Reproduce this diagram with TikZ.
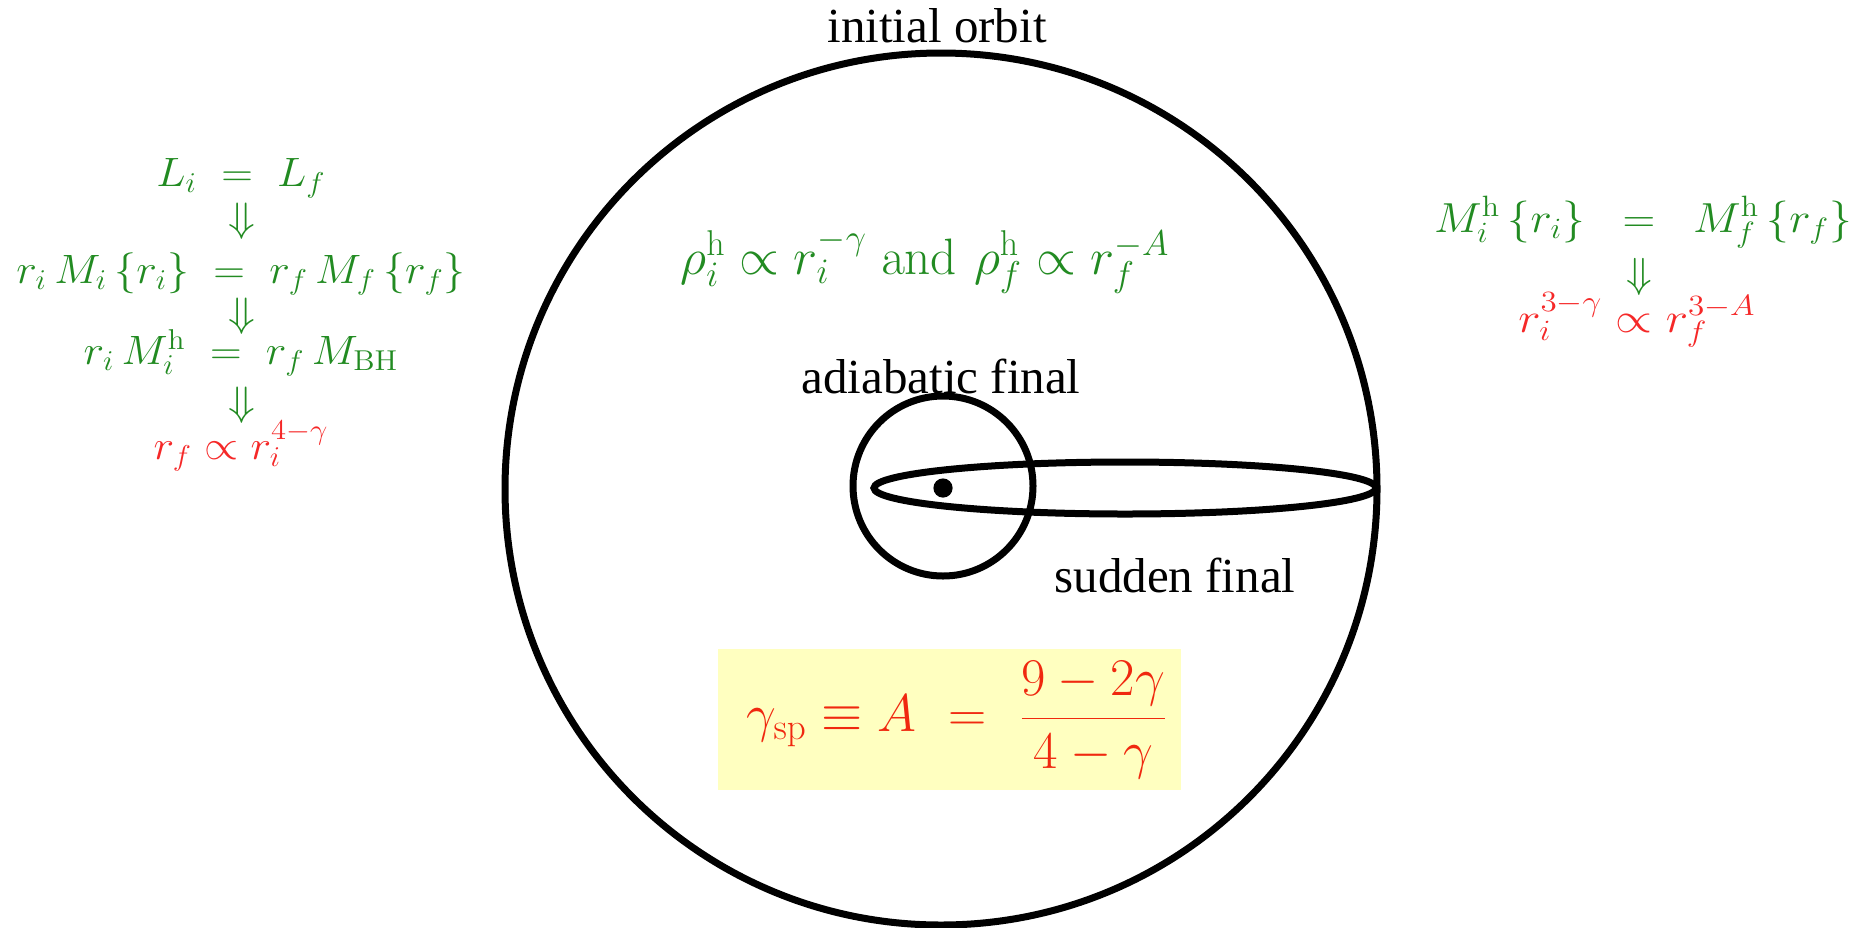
\RequirePackage{fix-cm}
\documentclass[tikz,border=0pt]{standalone}
\usepackage[no-math]{fontspec}
\setmainfont{Liberation Serif}
\definecolor{eqgreen}{RGB}{34,139,34}
\definecolor{eqred}{RGB}{245,40,40}
\definecolor{boxred}{RGB}{240,40,15}
\definecolor{boxyellow}{RGB}{255,255,192}
\newcommand\lstr[1]{\scalebox{1.07}[1]{$#1$}}
\newcommand\rstr[1]{\scalebox{1.08}[1]{$#1$}}
\newcommand\rstrb[1]{\scalebox{1.13}[1]{$#1$}}
\begin{document}
\begin{tikzpicture}[x=0.5pt,y=-0.5pt,
  orbit/.style={line width=3.5pt},
  lbl/.style={font=\rmfamily\fontsize{24.5}{29}\selectfont, inner sep=0pt, text=black},
  leq/.style={font=\fontsize{20.5}{24}\selectfont, inner sep=0pt, text=eqgreen},
  leqred/.style={leq, text=eqred},
  req/.style={font=\fontsize{21}{25}\selectfont, inner sep=0pt, text=eqgreen},
  reqred/.style={req, text=eqred},
  rhoeq/.style={font=\fontsize{25.6}{30}\selectfont, inner sep=0pt, text=eqgreen},
  boxeq/.style={font=\fontsize{26.5}{31}\selectfont, inner sep=0pt, text=boxred}]
\useasboundingbox (0,0) rectangle (1856,927);
% orbits
\draw[orbit] (941,489) circle[radius=218pt];
\draw[orbit] (943,486) circle[radius=45pt];
\draw[orbit] (1125,488) ellipse[x radius=125.5pt, y radius=13pt];
\fill (943,488) circle[radius=4.8pt];
% labels
\node[lbl] (init) at (937,26) {initial orbit};
\node[lbl] (adiab) at (941,376) {adiabatic final};
\node[lbl] (sudden) at (1175,575) {sudden final};
% left block
\node[leq, anchor=base] (l1) at (241,186) {\lstr{L_i\;=\;L_f}};
\node[leq] (a1) at (242,221) {\lstr{\Downarrow}};
\node[leq, anchor=base] (l2) at (241,283) {\lstr{r_i\,M_i\,\{r_i\}\;=\;r_f\,M_f\,\{r_f\}}};
\node[leq] (a2) at (242,316) {\lstr{\Downarrow}};
\node[leq, anchor=base] (l3) at (241,364) {\lstr{r_i\,M_i^{\mathrm{h}}\;=\;r_f\,M_{\mathrm{BH}}}};
\node[leq] (a3) at (242,405) {\lstr{\Downarrow}};
\node[leqred, anchor=base] (l4) at (241,459) {\lstr{r_f\propto r_i^{4-\gamma}}};
% right block
\node[req, anchor=base] (r1) at (1639,232) {\rstr{\llap{$M_i^{\mathrm{h}}\,\{r_i\}\;\;$}=\rlap{$\;\;M_f^{\mathrm{h}}\,\{r_f\}$}}};
\node[req] (ra) at (1639,277) {$\Downarrow$};
\node[reqred, anchor=base] (r2) at (1637,332) {\rstrb{r_i^{3-\gamma}\propto r_f^{3-A}}};
% centre formula
\node[rhoeq, anchor=base] (rho) at (925,274) {$\rho_i^{\mathrm{h}}\propto r_i^{-\gamma}\mskip5mu\mathrm{and}\mskip6mu\rho_f^{\mathrm{h}}\propto r_f^{-A}$};
% boxed result
\node[fill=boxyellow, minimum width=231.5pt, minimum height=70.5pt, inner sep=0pt] (box) at (949.5,719.5) {};
\node[boxeq] (form) at (957,720) {$\displaystyle\gamma_{\mathrm{sp}}\equiv A\mskip6mu=\mskip6mu\frac{9-2\gamma}{4-\gamma}$};
\end{tikzpicture}
\end{document}
